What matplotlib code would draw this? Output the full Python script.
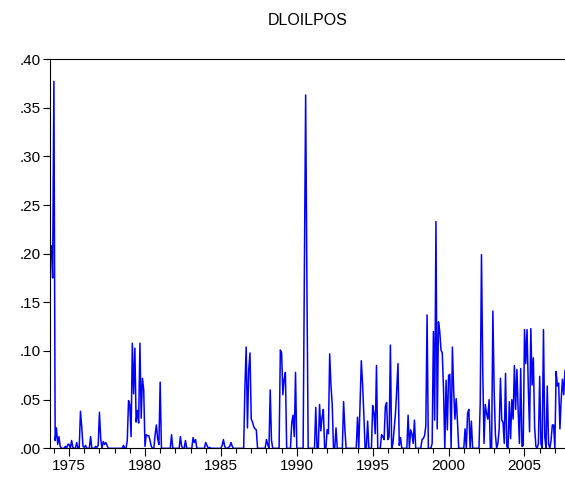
import numpy as np
import pandas as pd
import matplotlib
matplotlib.use("Agg")
import matplotlib.pyplot as plt
from matplotlib.ticker import FixedLocator, FuncFormatter

plt.rcParams['font.family'] = ['Liberation Sans', 'DejaVu Sans']

# monthly DLOILPOS, 1973:11 - 2007:09
y1973 = [0.208, 0.175]
y1974 = [0.377, 0.008, 0.021, 0.004, 0.012, 0.002, 0, 0, 0, 0.002, 0, 0.004]
y1975 = [0.004, 0, 0.008, 0.001, 0, 0, 0.006, 0, 0, 0.038, 0.022, 0.002]
y1976 = [0.001, 0.003, 0, 0, 0, 0.012, 0, 0, 0, 0.002, 0.001, 0.003]
y1977 = [0.037, 0.010, 0, 0.007, 0.004, 0.006, 0.003, 0, 0, 0, 0, 0]
y1978 = [0, 0, 0, 0, 0, 0, 0, 0.003, 0, 0, 0.008, 0.049]
y1979 = [0.045, 0.012, 0.108, 0.056, 0.103, 0.027, 0.039, 0.026, 0.108, 0.031, 0.072, 0.060]
y1980 = [0.002, 0.014, 0.013, 0.013, 0.008, 0.002, 0, 0, 0.014, 0.024, 0.010, 0.004]
y1981 = [0.068, 0, 0, 0, 0, 0, 0, 0, 0, 0.014, 0, 0]
y1982 = [0, 0, 0, 0, 0.012, 0.002, 0, 0, 0.008, 0, 0, 0]
y1983 = [0, 0, 0.011, 0.006, 0.009, 0, 0, 0, 0, 0, 0, 0]
y1984 = [0.006, 0.003, 0, 0.001, 0, 0, 0, 0, 0, 0, 0, 0]
y1985 = [0, 0.003, 0.009, 0.002, 0, 0, 0.001, 0.002, 0.006, 0.002, 0, 0]
y1986 = [0, 0, 0, 0, 0, 0, 0, 0.063, 0.104, 0.021, 0.080, 0.098]
y1987 = [0.030, 0.027, 0.022, 0.020, 0.019, 0, 0, 0, 0, 0, 0, 0]
y1988 = [0.009, 0.004, 0, 0.060, 0.008, 0, 0, 0, 0, 0, 0, 0.101]
y1989 = [0.098, 0.055, 0.071, 0.078, 0, 0, 0, 0, 0.026, 0.034, 0.012, 0.078]
y1990 = [0, 0, 0, 0, 0, 0, 0.176, 0.363, 0.170, 0, 0, 0]
y1991 = [0, 0, 0, 0.042, 0, 0, 0.045, 0.018, 0.032, 0.040, 0, 0]
y1992 = [0.019, 0.015, 0.097, 0.065, 0.045, 0, 0, 0.021, 0, 0, 0, 0]
y1993 = [0, 0.048, 0.020, 0, 0, 0, 0, 0, 0, 0, 0, 0]
y1994 = [0.032, 0, 0.045, 0.090, 0.066, 0.035, 0, 0, 0.028, 0, 0, 0]
y1995 = [0.044, 0.036, 0.015, 0.085, 0, 0, 0, 0.014, 0.012, 0.009, 0.043, 0.047]
y1996 = [0.009, 0.012, 0.106, 0, 0.005, 0.020, 0.036, 0.060, 0.087, 0.003, 0.011, 0]
y1997 = [0, 0, 0, 0, 0.034, 0, 0.019, 0.015, 0.005, 0.029, 0, 0]
y1998 = [0, 0, 0, 0.009, 0.010, 0.013, 0.023, 0.137, 0, 0, 0, 0.005]
y1999 = [0.120, 0.029, 0.233, 0.020, 0.130, 0.120, 0.101, 0.098, 0.060, 0, 0.070, 0.019]
y2000 = [0.075, 0.076, 0, 0.104, 0.060, 0.030, 0.051, 0.028, 0, 0, 0, 0]
y2001 = [0, 0.020, 0, 0.036, 0.040, 0, 0.028, 0, 0, 0, 0, 0]
y2002 = [0, 0.046, 0.199, 0.080, 0.005, 0.045, 0.036, 0.030, 0.050, 0, 0, 0.141]
y2003 = [0.060, 0.014, 0, 0.005, 0.020, 0.072, 0.029, 0.027, 0.005, 0.077, 0.002, 0]
y2004 = [0.048, 0.010, 0.050, 0.030, 0.085, 0.040, 0.081, 0.039, 0.005, 0.082, 0.002, 0.003]
y2005 = [0.122, 0.087, 0.122, 0.063, 0.017, 0.123, 0.065, 0.093, 0.022, 0.002, 0, 0.005]
y2006 = [0.074, 0.005, 0, 0.122, 0.012, 0, 0.064, 0.005, 0, 0.008, 0.024, 0.024]
y2007 = [0, 0.079, 0.064, 0.067, 0.020, 0.050, 0.071, 0.055, 0.080]

years = [y1973, y1974, y1975, y1976, y1977, y1978, y1979, y1980, y1981, y1982,
         y1983, y1984, y1985, y1986, y1987, y1988, y1989, y1990, y1991, y1992,
         y1993, y1994, y1995, y1996, y1997, y1998, y1999, y2000, y2001, y2002,
         y2003, y2004, y2005, y2006, y2007]
dloilpos = np.concatenate([np.array(y, dtype=float) for y in years])

months = pd.period_range("1973-11", periods=len(dloilpos), freq="M")
t = months.year + (months.month - 1) / 12.0

fig = plt.figure(figsize=(5.65, 4.83), dpi=100)
ax = fig.add_axes([0.089, 0.0718, 0.911, 0.806])

ax.plot(t, dloilpos, color="#0000ff", lw=1.1)

ax.set_xlim(1973.762, 2007.668)
ax.set_ylim(0, 0.40)

ax.xaxis.set_major_locator(FixedLocator(np.arange(1975, 2010, 5)))
ax.xaxis.set_minor_locator(FixedLocator(np.arange(1974, 2008, 1)))
ax.xaxis.set_major_formatter(FuncFormatter(lambda v, p: f"{int(v)}"))
ax.yaxis.set_major_locator(FixedLocator(np.arange(0, 0.401, 0.05)))
ax.yaxis.set_major_formatter(FuncFormatter(lambda v, p: f"{v:.2f}"[1:]))

ax.tick_params(axis="x", which="major", direction="out", length=6, width=0.8,
               labelsize=11, pad=2)
ax.tick_params(axis="x", which="minor", direction="out", length=3.5, width=0.8)
ax.tick_params(axis="y", direction="out", length=5, width=0.8, labelsize=11, pad=2)

ax.spines["right"].set_visible(False)
for s in ("left", "top", "bottom"):
    ax.spines[s].set_linewidth(0.8)

fig.text(0.545, 0.958, "DLOILPOS", ha="center", va="center", fontsize=11.5)

fig.savefig("out.png", dpi=100)
